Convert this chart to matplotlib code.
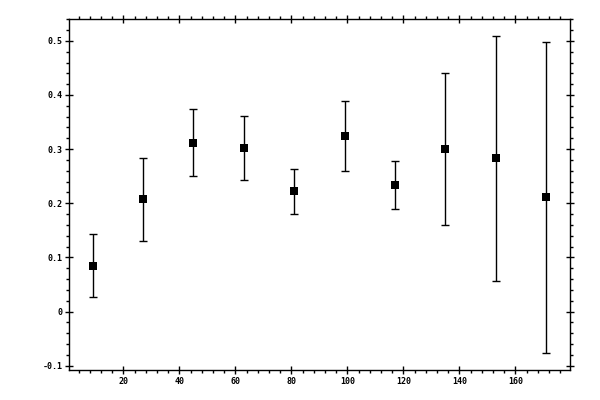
import numpy as np
import matplotlib
matplotlib.use("Agg")
import matplotlib.pyplot as plt
from matplotlib.ticker import MultipleLocator

# values
x_vals = [9, 27, 45, 63, 81, 99, 117, 135, 153, 171]
y_vals = [0.085, 0.207, 0.312, 0.302, 0.222, 0.324, 0.234, 0.300, 0.283, 0.211]
y_errs = [0.058, 0.077, 0.062, 0.059, 0.042, 0.065, 0.044, 0.140, 0.226, 0.287]

fig = plt.figure(figsize=(6, 4), dpi=100)
ax = fig.add_axes([0.1155, 0.075, 0.835, 0.877])

ax.errorbar(x_vals, y_vals, yerr=y_errs, fmt='none', ecolor='black',
            elinewidth=1.0, capsize=2.6, capthick=1.0)
ax.plot(x_vals, y_vals, 's', color='black', markersize=6.3,
        markeredgewidth=0)

ax.set_xlim(0.7, 179.6)
ax.set_ylim(-0.108, 0.54)

ax.xaxis.set_minor_locator(MultipleLocator(4))
ax.yaxis.set_minor_locator(MultipleLocator(0.02))
ax.set_xticks([20, 40, 60, 80, 100, 120, 140, 160])
ax.set_xticklabels(['20', '40', '60', '80', '100', '120', '140', '160'])
ax.set_yticks([-0.1, 0, 0.1, 0.2, 0.3, 0.4, 0.5])
ax.set_yticklabels(['-0.1', '0', '0.1', '0.2', '0.3', '0.4', '0.5'])

ax.tick_params(which='major', direction='inout', length=6, width=1,
               top=True, right=True, labelsize=6, pad=2)
ax.tick_params(which='minor', direction='out', length=2.3, width=1,
               top=True, right=True)
for lab in ax.get_xticklabels() + ax.get_yticklabels():
    lab.set_family('DejaVu Sans Mono')
    lab.set_fontweight('bold')
for sp in ax.spines.values():
    sp.set_linewidth(1)

fig.savefig('out.png', dpi=100)
